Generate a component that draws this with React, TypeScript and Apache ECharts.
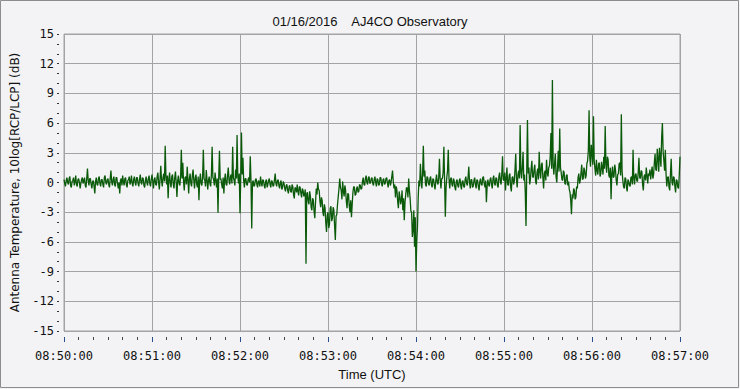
import React, { useEffect, useRef } from "react";
import * as echarts from "echarts";

// Chart text
const TITLE = "01/16/2016    AJ4CO Observatory";
const X_NAME = "Time (UTC)";
const Y_NAME = "Antenna Temperature, 10log[RCP/LCP] (dB)";
const START_HOUR = 8;
const START_MINUTE = 50;
const SAMPLE_SECONDS = 0.5; // two samples per second from 08:50:00
const X_MAX_SECONDS = 420; // 08:57:00
const Y_MIN = -15;
const Y_MAX = 15;
const Y_STEP = 3;

// 10log[RCP/LCP] (dB), one value every half second
const rcpLcp_0850 = [
  0.3, -0.1, -0.4, 0.2, 0.5, 0.0, -0.2, 0.4, 0.6, -0.3, -0.5, 0.1, 0.2, 0.5, -0.3, 0.1, 0.7, -0.2, -0.4, 0.3,
  0.4, 0.0, -0.6, -0.1, 0.3, 0.5, -0.1, 0.2, 0.5, -0.3, -0.5, 0.4, 1.4, 0.2, -0.3, 0.4, 0.4, -0.2, -0.6, 0.1,
  0.2, -0.4, -1.1, 0.1, 0.5, -0.2, -0.3, 0.4, 0.6, -0.1, -0.4, 0.3, 0.3, -0.2, -0.5, 0.5, 0.7, 0.0, -0.2, 0.3,
  0.4, -0.2, -0.5, 0.4, 1.2, 0.1, -0.3, 0.3, 0.6, -0.2, -0.4, 0.5, 0.5, -0.1, -0.6, 0.0, -1.1, 0.2, 0.4, -0.3,
  0.7, 0.1, -0.3, 0.4, 0.5, -0.2, -0.5, 0.2, 0.3, 0.6, -0.2, 0.1, 0.7, -0.1, -0.4, 0.3, 0.6, 0.0, -0.3, 0.5,
  0.5, -0.1, -0.4, 0.3, 0.8, 0.0, -0.2, 0.5, 0.4, -0.3, -0.5, 0.2, 0.6, 0.0, -0.3, 0.4, 0.7, -0.1, -0.4, 0.3,
];
const rcpLcp_0851 = [
  0.8, 0.1, -0.6, 0.3, 0.5, -0.2, -0.3, 0.6, 1.0, 0.0, -0.7, 0.4, 1.7, 0.2, -0.4, 0.5, 0.9, 0.1, 3.7, 0.6,
  -0.2, 0.7, -1.6, 0.3, 1.0, -0.1, -0.5, 0.6, 0.8, -0.2, -0.6, 0.5, 1.1, 0.0, -1.45, 0.2, 0.7, -0.1, -0.3, 0.6,
  3.3, 0.4, 2.0, 0.1, -0.8, 0.5, 0.6, -0.2, 1.6, 0.3, -1.1, 0.4, 0.9, -0.1, -0.4, 0.7, 1.3, 0.2, -0.6, 0.5,
  0.8, -0.2, -0.5, 0.6, -1.8, 0.2, 0.9, -0.1, -0.3, 0.5, 3.3, 0.4, 0.2, -0.4, 1.25, 0.3, -0.7, 0.2, 0.6, -0.1,
  -0.4, 0.8, 3.6, 0.5, 0.3, -0.3, 1.0, 0.2, -0.5, 0.4, -3.05, 0.6, 3.2, 0.3, 0.4, -0.2, -0.6, 0.5, -1.1, 0.3,
  0.9, -0.2, -0.3, 0.7, 1.5, 0.2, -0.2, 0.6, 0.8, -0.1, 3.6, 0.5, 0.2, -0.3, 1.3, 0.4, 4.8, 0.6, -0.1, 0.9,
];
const rcpLcp_0852 = [
  -3.1, 0.5, 5.05, 0.8, 2.5, 0.2, -0.5, 0.4, 0.4, -0.2, -0.3, 0.3, 0.5, 0.0, 2.66, 0.1, -4.65, 0.0, 0.2, -0.4,
  -0.3, 0.3, 0.4, -0.2, -0.5, 0.2, 0.1, -0.4, 0.6, 0.0, -0.4, 0.3, 0.2, -0.3, -0.6, 0.1, 0.3, -0.5, -0.2, 0.2,
  0.4, -0.2, -0.5, 0.2, 0.1, -0.4, -0.3, 0.3, 0.9, -0.1, -0.4, 0.2, 0.3, -0.3, -0.6, 0.0, 0.2, -0.7, -0.5, 0.1,
  -0.1, -0.6, -0.9, -0.3, -0.2, -0.8, -1.1, -0.4, -0.3, -0.9, -1.0, -0.2, -0.4, -1.2, -1.6, -0.5, -0.6, -1.0, -0.2, -0.9,
  -1.3, -0.4, -0.5, -1.1, -1.5, -0.6, -0.8, -1.4, -1.2, -0.7, -8.2, -1.1, -1.0, -1.9, -2.2, -0.9, -1.4, -2.5, -2.8, -1.6,
  -1.8, -2.9, -3.6, -2.0, -0.6, -1.2, 0.0, -0.7, -0.8, -1.9, -2.5, -1.5, -1.8, -3.0, -3.4, -2.2, -2.6, -4.1, -5.0, -3.3,
];
const rcpLcp_0853 = [
  -3.0, -4.6, -4.2, -2.6, -2.4, -3.9, -3.6, -2.5, -2.8, -4.4, -5.8, -3.4, -3.2, -2.2, -1.4, -0.6, 0.4, -0.5, -0.8, -1.7,
  0.1, -0.9, -1.4, -0.3, -0.8, -1.9, -2.6, -1.1, -1.2, -2.4, -3.0, -1.8, -3.5, -2.2, -1.0, -0.4, -0.5, -1.3, -1.2, -0.6,
  -0.4, -1.0, -0.9, -0.2, -0.3, -0.7, -0.6, 0.1, 0.5, -0.2, -0.3, 0.4, 0.7, 0.0, -0.2, 0.5, 0.6, -0.1, 0.0, 0.4,
  0.5, -0.1, -0.3, 0.3, 0.6, 0.0, -0.4, 0.4, 0.3, -0.3, -0.2, 0.5, 0.5, -0.1, -0.4, 0.3, 0.4, -0.2, -0.1, 0.4,
  0.5, 0.0, -0.5, 0.2, 0.3, -0.3, 0.0, 0.6, 1.2, 0.1, -0.6, -0.2, -1.5, -0.4, -0.8, -1.9, -2.6, -0.9, -1.4, -2.2,
  -1.8, -0.8, -2.8, -1.6, -3.8, -2.0, -1.2, -0.5, -0.6, -1.5, 0.4, -0.8, -1.6, -2.9, -3.0, -5.5, -4.8, -2.8, -6.5, -3.5,
];
const rcpLcp_0854 = [
  -9.0, -6.0, -4.5, -1.5, 0.2, -0.4, 1.9, 0.4, -0.6, 0.8, 3.7, 0.6, 1.2, -0.2, -0.4, 0.6, 0.5, -0.1, -0.3, 0.4,
  0.6, -0.2, -0.5, 0.4, 0.3, -0.3, -0.7, 0.2, 0.8, 0.0, -0.2, 0.5, 2.4, 0.3, -0.6, 0.4, 0.4, 1.0, 3.6, 0.2,
  -3.45, -0.5, 0.5, 1.2, 3.3, 0.4, -0.6, 0.3, 0.5, -0.2, -0.4, 0.4, 0.2, -0.5, -0.8, 0.1, 0.3, -0.3, -0.5, 0.2,
  0.4, -0.3, -0.7, 0.1, 0.2, -0.4, -0.5, 0.3, 0.6, -0.1, -0.3, 0.5, 1.6, 0.0, -0.6, 0.3, 0.3, -0.5, -0.4, 0.2,
  0.5, -0.2, -0.6, 0.3, 0.2, -0.4, -0.8, 0.1, 0.4, -0.2, -0.3, 0.5, 0.6, -0.1, -0.5, 0.2, -2.0, -0.4, 0.3, -0.2,
  -0.4, 0.3, 0.5, -0.2, -0.6, 0.4, 0.7, -0.1, -0.3, 0.5, 0.4, -0.3, -0.5, 0.6, 1.0, 0.1, -0.2, 0.9, 2.66, 0.3,
];
const rcpLcp_0855 = [
  0.2, 1.0, -0.8, 0.4, 1.5, -0.2, -0.3, 0.7, 0.9, -0.4, -0.9, 0.5, 0.6, -0.2, 0.1, 1.3, 2.9, 0.3, -0.5, 0.8,
  1.2, 0.4, 5.8, 1.0, 0.4, 1.6, 3.1, 0.2, 0.8, -1.0, -4.4, 1.2, 6.3, 0.9, 1.5, -0.2, 0.3, 1.4, 2.2, 0.6,
  0.5, 1.3, 1.8, 0.2, -0.2, 1.0, 1.4, 0.3, 3.1, 1.1, 0.4, 1.8, 2.0, 0.5, -0.6, 0.9, 1.2, 0.2, 2.3, 1.0,
  0.6, 1.5, 1.7, 2.6, 5.0, 1.4, 10.35, 1.8, 0.8, 2.0, 2.9, 0.6, 0.0, 1.6, 3.2, 1.1, 5.45, 1.5, 1.0, 0.3,
  0.2, 1.2, 1.0, -0.1, -0.2, 0.7, 0.8, -0.3, 0.1, -0.7, -1.0, -1.8, -3.2, -1.2, -1.6, -0.6, -0.8, -1.7, -1.5, -0.4,
  -0.6, 0.5, 0.9, -0.1, 0.2, 1.0, 1.8, 0.3, 0.4, 1.5, 1.2, 0.4, 0.7, 1.9, 2.2, 3.2, 7.3, 2.5, 1.6, 3.8,
];
const rcpLcp_0856 = [
  3.0, 1.8, 6.7, 2.2, 1.4, 0.7, 2.3, 1.2, 0.8, 1.9, 2.0, 0.6, 0.9, 2.1, 1.5, 0.8, 2.6, 1.4, 5.7, 1.9,
  1.0, 2.6, 2.3, 0.7, 0.5, 1.5, -1.7, 0.9, 1.6, 0.5, 0.6, 1.8, 1.3, 0.2, -0.3, 0.8, 0.9, 1.9, 2.0, 0.7,
  6.9, 1.2, 0.2, -0.4, -0.6, 0.5, 0.4, -0.5, -0.9, 0.3, 0.1, -0.3, -0.4, 0.5, 0.6, -0.2, 3.3, 0.4, -0.2, 0.8,
  0.9, 0.2, 0.1, 1.0, 2.5, 0.5, 0.4, 1.2, 1.1, -0.2, -0.8, 0.6, 0.8, 0.2, 1.5, 0.7, -0.1, 0.9, 0.7, 1.3,
  0.3, 1.0, 1.6, 0.4, 0.8, 2.0, 2.9, 1.3, 1.2, 3.4, 2.4, 1.1, 3.5, 2.6, 1.6, 4.6, 6.0, 3.1, 2.2, 1.2,
  3.3, 0.8, -0.4, 0.5, 0.6, -0.5, -0.8, 0.9, 2.4, 0.1, -0.3, 0.6, 0.5, -0.4, -1.0, 0.3, 0.2, -0.5, -0.6, 0.7,
];
const rcpLcp_0857 = [2.6];

const allValues = [
  ...rcpLcp_0850,
  ...rcpLcp_0851,
  ...rcpLcp_0852,
  ...rcpLcp_0853,
  ...rcpLcp_0854,
  ...rcpLcp_0855,
  ...rcpLcp_0856,
  ...rcpLcp_0857,
];

const pad = (n: number) => (n < 10 ? "0" + n : String(n));
const fmtTime = (sec: number) => {
  const total = START_HOUR * 3600 + START_MINUTE * 60 + Math.round(sec);
  const h = Math.floor(total / 3600);
  const m = Math.floor((total % 3600) / 60);
  const s = total % 60;
  return `${pad(h)}:${pad(m)}:${pad(s)}`;
};

export default function App() {
  const ref = useRef<HTMLDivElement>(null);

  useEffect(() => {
    if (!ref.current) return;
    const chart = echarts.init(ref.current, null, { renderer: "svg" });
    const data = allValues.map((v, i) => [i * SAMPLE_SECONDS, v]);
    const gridColor = "#a3a3a3";
    chart.setOption({
      animation: false,
      backgroundColor: "#f3f3f5",
      title: {
        text: TITLE,
        left: "center",
        top: 10,
        textStyle: {
          fontFamily: "Liberation Sans",
          fontSize: 13,
          fontWeight: "normal",
          color: "#111",
        },
      },
      grid: {
        left: 64,
        right: 60,
        top: 34,
        bottom: 58,
        show: true,
        backgroundColor: "#f3f3f5",
        borderColor: gridColor,
        borderWidth: 1,
      },
      graphic: [
        {
          type: "rect",
          shape: { x: 0.5, y: 0.5, width: 738, height: 387 },
          style: { fill: "none", stroke: "#8c8c8c", lineWidth: 1 },
          silent: true,
        },
      ],
      xAxis: {
        type: "value",
        min: 0,
        max: X_MAX_SECONDS,
        interval: 60,
        offset: 6,
        name: X_NAME,
        nameLocation: "middle",
        nameGap: 31,
        nameTextStyle: {
          fontFamily: "Liberation Sans",
          fontSize: 13,
          color: "#111",
        },
        axisLine: { show: false, onZero: false },
        axisTick: {
          show: true,
          length: 5,
          lineStyle: { color: "#2b4f86", width: 1 },
        },
        minorTick: {
          show: true,
          splitNumber: 6,
          length: 3,
          lineStyle: { color: "#444", width: 1 },
        },
        axisLabel: {
          margin: 13,
          formatter: (v: number) => fmtTime(v),
          fontFamily: "DejaVu Sans Mono",
          fontSize: 12,
          color: "#111",
        },
        splitLine: { show: true, lineStyle: { color: gridColor, width: 1 } },
      },
      yAxis: {
        type: "value",
        min: Y_MIN,
        max: Y_MAX,
        interval: Y_STEP,
        offset: 5,
        name: Y_NAME,
        nameLocation: "middle",
        nameGap: 35,
        nameTextStyle: {
          fontFamily: "DejaVu Sans",
          fontSize: 12,
          color: "#111",
        },
        axisLine: { show: false, onZero: false },
        axisTick: {
          show: true,
          length: 2,
          lineStyle: { color: "#333", width: 1 },
        },
        minorTick: {
          show: true,
          splitNumber: 3,
          length: 2,
          lineStyle: { color: "#333", width: 1 },
        },
        axisLabel: {
          margin: 5,
          fontFamily: "DejaVu Sans Mono",
          fontSize: 12,
          color: "#111",
        },
        splitLine: { show: true, lineStyle: { color: gridColor, width: 1 } },
      },
      series: [
        {
          type: "line",
          data,
          showSymbol: false,
          symbol: "none",
          lineStyle: { color: "#0a5a0a", width: 1.3 },
          itemStyle: { color: "#0a5a0a" },
        },
      ],
    });
    return () => chart.dispose();
  }, []);

  return (
    <div
      ref={ref}
      style={{ position: "absolute", left: 0, top: 0, width: 740, height: 389 }}
    />
  );
}
